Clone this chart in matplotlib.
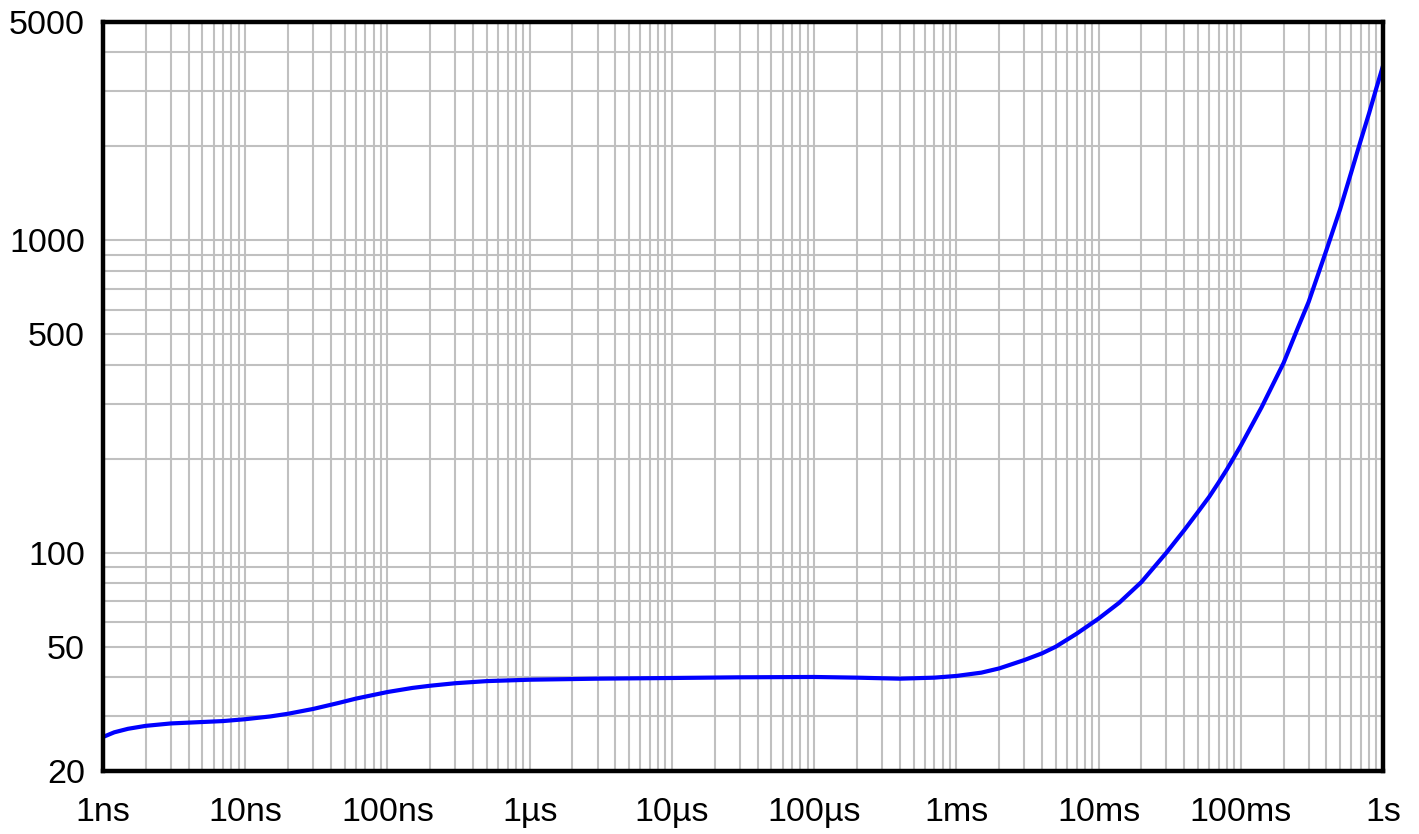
import matplotlib
matplotlib.use("Agg")
import matplotlib.pyplot as plt
from matplotlib.ticker import LogLocator, NullFormatter, FixedLocator

# Data (time in seconds, value)
time_s = [1e-9, 1.2e-9, 1.5e-9, 2e-9, 3e-9, 5e-9, 7e-9, 1e-8, 1.5e-8, 2e-8,
          3e-8, 4.5e-8, 6e-8, 1e-7, 1.5e-7, 2e-7, 3e-7, 5e-7, 1e-6, 3e-6,
          1e-5, 3e-5, 1e-4, 2e-4, 4e-4, 7e-4, 1e-3, 1.5e-3, 2e-3, 3e-3,
          4e-3, 5e-3, 7e-3, 1e-2, 1.4e-2, 2e-2, 3e-2, 4e-2, 5e-2, 6e-2, 7e-2,
          8e-2, 1e-1, 1.4e-1, 2e-1, 2.5e-1, 3e-1, 4e-1, 5e-1, 6e-1, 7e-1,
          8e-1, 9e-1, 1.0]
values = [25.7, 26.6, 27.3, 27.9, 28.4, 28.7, 28.9, 29.3, 29.9, 30.5,
          31.6, 33.0, 34.1, 35.8, 36.9, 37.5, 38.2, 38.8, 39.2, 39.5,
          39.7, 39.9, 40.0, 39.8, 39.5, 39.8, 40.3, 41.3, 42.6, 45.3,
          47.6, 50.0, 55.0, 61.5, 69.2, 80.5, 100.0, 118.0, 135.0, 151.0, 168.0,
          185.0, 220.0, 292.0, 405.0, 520.0, 635.0, 930.0, 1260.0, 1660.0, 2100.0,
          2560.0, 3080.0, 3620.0]

x_ticks = [1e-9, 1e-8, 1e-7, 1e-6, 1e-5, 1e-4, 1e-3, 1e-2, 1e-1, 1.0]
x_labels = ["1ns", "10ns", "100ns", "1µs", "10µs", "100µs", "1ms", "10ms", "100ms", "1s"]
y_ticks = [20, 50, 100, 500, 1000, 5000]
y_labels = ["20", "50", "100", "500", "1000", "5000"]
y_minor = [30, 40, 60, 70, 80, 90, 200, 300, 400, 600, 700, 800, 900, 2000, 3000, 4000]

plt.rcParams['font.family'] = ['Liberation Sans', 'DejaVu Sans']

fig = plt.figure(figsize=(14.19, 8.34), dpi=100)
ax = fig.add_axes([103/1419, 63/834, 1280/1419, 749/834])

ax.plot(time_s, values, color='#0000ff', lw=3.0, zorder=3,
        solid_joinstyle='round', solid_capstyle='butt')

ax.set_xscale('log')
ax.set_yscale('log')
ax.set_xlim(1e-9, 1.0)
ax.set_ylim(20, 5000)

ax.xaxis.set_major_locator(FixedLocator(x_ticks))
ax.set_xticklabels(x_labels)
ax.xaxis.set_minor_locator(LogLocator(base=10, subs=range(2, 10), numticks=100))
ax.xaxis.set_minor_formatter(NullFormatter())

ax.yaxis.set_major_locator(FixedLocator(y_ticks))
ax.set_yticklabels(y_labels)
ax.yaxis.set_minor_locator(FixedLocator(y_minor))
ax.yaxis.set_minor_formatter(NullFormatter())

ax.grid(True, which='both', color='#c0c0c0', lw=1.5, zorder=1)
ax.set_axisbelow(True)

ax.tick_params(which='both', length=0)
ax.tick_params(axis='x', which='major', labelsize=24.5, pad=19)
ax.tick_params(axis='y', which='major', labelsize=24.5, pad=13)

for s in ax.spines.values():
    s.set_linewidth(3.2)
    s.set_color('black')
    s.set_zorder(4)

fig.savefig('out.png', dpi=100)
